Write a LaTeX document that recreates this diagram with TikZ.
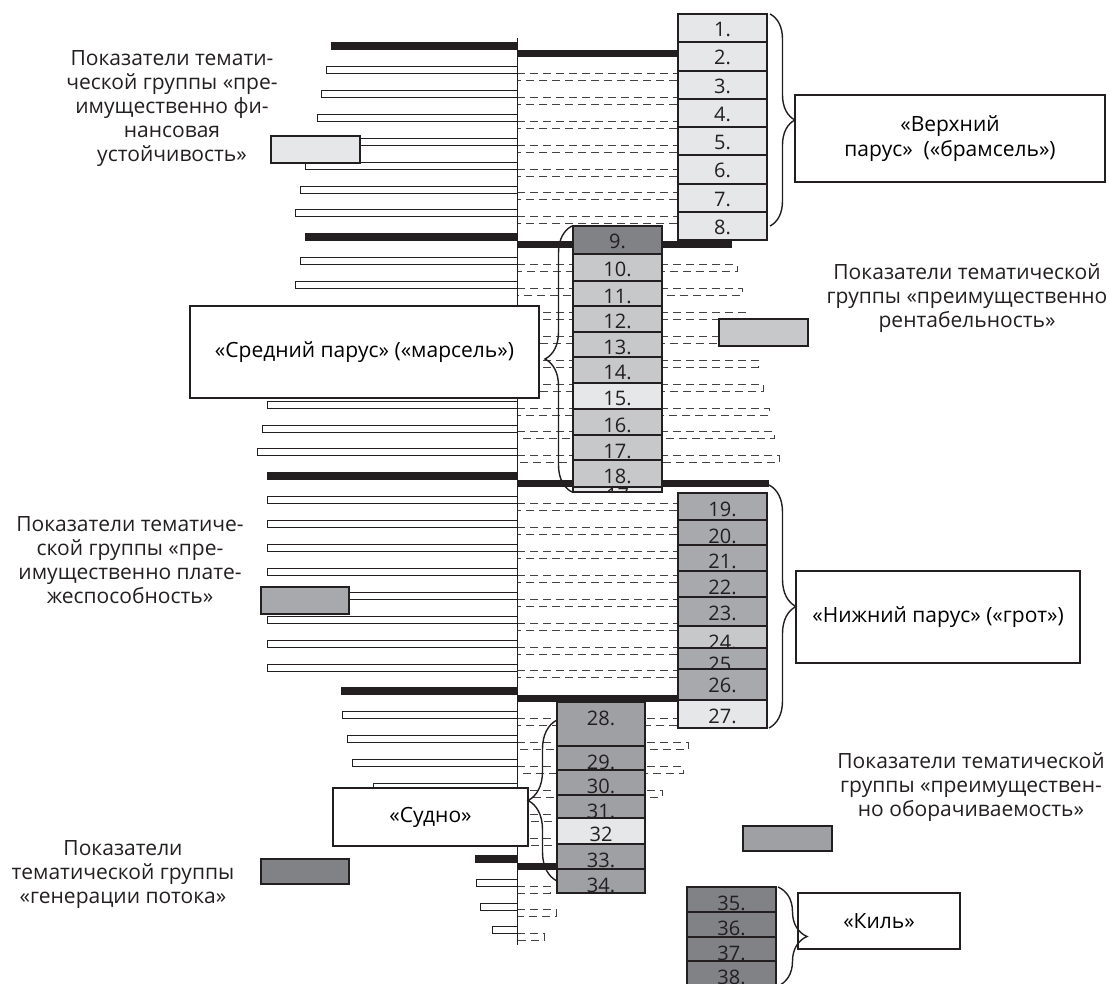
\documentclass[tikz,border=0pt]{standalone}
\usepackage{fontspec}
\setmainfont{Open Sans}
\usetikzlibrary{positioning, calc, decorations.pathreplacing}
\definecolor{nero}{HTML}{231F20}
\definecolor{grigio1}{HTML}{E6E7E8}
\definecolor{grigio2}{HTML}{C7C8CA}
\definecolor{grigio3}{HTML}{A7A9AC}
\definecolor{grigio4}{HTML}{9FA0A3}
\definecolor{grigio5}{HTML}{808285}
\tikzset{
    casella/.style={draw=nero, line width=1.4pt, inner sep=0pt, outer sep=0pt},
    numero/.style={anchor=base, inner sep=0pt, text=nero, font=\fontsize{20}{24}\selectfont},
    etichetta/.style={draw=nero, fill=white, line width=1.6pt, align=center, inner sep=0pt, font=\fontsize{21}{25}\selectfont},
    legenda/.style={draw=nero, line width=1.6pt, inner sep=0pt},
    testo/.style={align=center, inner sep=0pt, text=nero, font=\fontsize{21}{24}\selectfont},
    barra/.style={draw=nero, fill=white, line width=0.7pt},
    tratt/.style={draw=nero!85, line width=0.9pt, dash pattern=on 8pt off 5pt},
    graffa/.style={decorate, decoration={brace, amplitude=#1}, line width=1.4pt, draw=nero}
}
\begin{document}
\begin{tikzpicture}[x=1pt,y=-1pt]
        \useasboundingbox (0,0) rectangle (1109,984);
        %barre vuote a sinistra, tratteggi a destra
        \foreach \k/\xa/\xb in {1/326/678, 2/321/678, 3/317/678, 4/312/678, 5/305/678, 6/300/678, 7/295/678,
                9/300/737, 10/295/742, 11/290/745, 12/285/750, 13/280/758, 14/272/763, 15/267/769, 16/262/774, 17/257/779,
                19/267/678, 20/267/678, 21/267/678, 22/267/678, 23/267/678, 24/267/678, 25/267/678, 26/267/678,
                28/342/678, 29/347/688, 30/352/683, 31/373/662, 32/400/557, 33/430/557,
                35/476/550, 36/480/556, 37/492/544}{
            \pgfmathsetmacro{\yc}{46+23.9*\k}
            \draw[barra] (\xa,\yc-3.5) rectangle (517,\yc+3.5);
            \draw[tratt] (517,\yc+3.5) -| (\xb,\yc+10.5) -- (517,\yc+10.5);
        }
        %barre piene
        \foreach \k/\xa/\xb in {0/331/678, 8/305/732, 18/267/769, 27/341/678, 34/475/557}{
            \pgfmathsetmacro{\yc}{46+23.9*\k}
            \fill[nero] (\xa,\yc-4) rectangle (517,\yc+4);
            \fill[nero] (517,\yc+4) rectangle (\xb,\yc+11);
        }
        %asse
        \draw[nero, line width=0.8pt] (517,38) -- (517,945);
        %legenda
        \node[legenda, fill=grigio1, minimum width=89, minimum height=27] (lfin) at (315.5,149.5) {};
        \node[legenda, fill=grigio2, minimum width=89, minimum height=27] (lrent) at (763.5,332.5) {};
        \node[legenda, fill=grigio3, minimum width=88, minimum height=27] (lplat) at (305,600.5) {};
        \node[legenda, fill=grigio4, minimum width=89, minimum height=25] (lobor) at (787.5,838.5) {};
        \node[legenda, fill=grigio5, minimum width=88, minimum height=25] (lgen) at (305,871.5) {};
        %caselle numerate
        \foreach \n/\xa/\ya/\xb/\yb/\col/\lab in {1/678/14/767/42/grigio1/1., 2/678/42/767/71/grigio1/2.,
                3/678/71/767/99/grigio1/3., 4/678/99/767/127/grigio1/4., 5/678/127/767/155/grigio1/5.,
                6/678/155/767/184/grigio1/6., 7/678/184/767/212/grigio1/7., 8/678/212/767/240/grigio1/8.,
                9/573/226/662/254/grigio5/9., 10/573/254/662/281/grigio2/10., 11/573/281/662/306/grigio2/11.,
                12/573/306/662/332/grigio2/12., 13/573/332/662/357/grigio2/13., 14/573/357/662/383/grigio2/14.,
                15/573/383/662/409/grigio1/15., 16/573/409/662/435/grigio2/16., 17/573/435/662/460/grigio2/17.,
                18/573/460/662/487/grigio2/18.,
                19/678/493/767/520/grigio3/19., 20/678/520/767/545/grigio3/20., 21/678/545/767/571/grigio3/21.,
                22/678/571/767/597/grigio3/22., 23/678/597/767/626/grigio3/23., 24/678/626/767/648/grigio2/24.,
                25/678/648/767/669/grigio3/25., 26/678/669/767/700/grigio3/26., 27/678/700/767/728/grigio1/27.,
                28/557/702/645/746/grigio4/28., 29/557/746/645/770/grigio4/29., 30/557/770/645/795/grigio4/30.,
                31/557/795/645/818/grigio4/31., 32/557/818/645/844/grigio1/32, 33/557/844/645/869/grigio4/33.,
                34/557/869/645/893/grigio4/34.,
                35/687/887/776/912/grigio5/35., 36/687/912/776/937/grigio5/36., 37/687/937/776/961/grigio5/37.,
                38/687/961/776/986/grigio5/38.}{
            \node[casella, fill=\col, minimum width=\xb-\xa, minimum height=\yb-\ya] (c\n) at ({(\xa+\xb)/2},{(\ya+\yb)/2}) {};
            \begin{scope}
                \clip (\xa,\ya) rectangle (\xb,\yb);
                \node[numero] (t\n) at ({(\xa+\xb)/2},\ya+23) {\lab};
            \end{scope}
        }
        %striscia sotto la 18
        \node[casella, fill=grigio1, minimum width=89, minimum height=5] (c17b) at (617.5,489.5) {};
        \begin{scope}
            \clip (573,487) rectangle (662,492);
            \node[numero] (t17b) at (617.5,502) {17};
        \end{scope}
        %riquadri dei nomi
        \node[etichetta, minimum width=310, minimum height=87] (verkh) at (950,138.5) {«Верхний\\парус»~~(«брамсель»)};
        \node[etichetta, minimum width=349, minimum height=92] (sred) at (364.5,352) {«Средний парус» («марсель»)};
        \node[etichetta, minimum width=284, minimum height=92] (nizh) at (938,617) {«Нижний парус» («грот»)};
        \node[etichetta, minimum width=195, minimum height=58] (sudno) at (430.5,817) {«Судно»};
        \node[etichetta, minimum width=162, minimum height=56] (kil) at (879,921) {«Киль»};
        %graffe
        \draw[graffa=25pt] ([xshift=3pt]c1.north east) -- ([xshift=3pt]c8.east);
        \draw[graffa=27pt] ([xshift=-1pt]c17b.south west) -- ([xshift=-1pt]c9.north west);
        \draw[graffa=27pt] ([xshift=2pt,yshift=8pt]c19.north east) -- ([xshift=2pt]c27.south east);
        \draw[graffa=29pt] (c34.west) -- ([yshift=-18pt]c28.north west);
        \draw[graffa=29pt] ([xshift=2pt]c35.north east) -- ([xshift=2pt]c38.south east);
        %testi della legenda
        \node[testo] (tfin) at (172,109) {Показатели темати-\\ческой группы «пре-\\имущественно фи-\\нансовая\\устойчивость»};
        \node[testo] (trent) at (967,298) {Показатели тематической\\группы «преимущественно\\рентабельность»};
        \node[testo] (tplat) at (130,560.5) {Показатели тематиче-\\ской группы «пре-\\имущественно плате-\\жеспособность»};
        \node[testo] (tobor) at (971,787.5) {Показатели тематической\\группы «преимуществен-\\но оборачиваемость»};
        \node[testo] (tgen) at (123,874.5) {Показатели\\тематической группы\\«генерации потока»};
\end{tikzpicture}
\end{document}
